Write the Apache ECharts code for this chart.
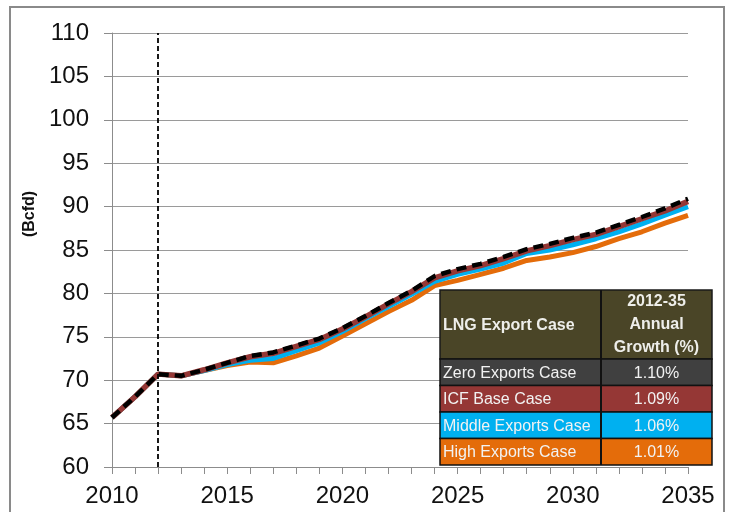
<!DOCTYPE html>
<html>
<head>
<meta charset="utf-8">
<script src="https://cdn.jsdelivr.net/npm/echarts@6/dist/echarts.min.js"></script>
<style>
html,body{margin:0;padding:0;background:#fff;}
#c{width:739px;height:512px;}
</style>
</head>
<body>
<div id="c"></div>
<script>
const years = [2010,2011,2012,2013,2014,2015,2016,2017,2018,2019,2020,2021,2022,2023,2024,2025,2026,2027,2028,2029,2030,2031,2032,2033,2034,2035];
const zeroExports   = [65.7,68.1,70.7,70.5,71.2,72.0,72.8,73.2,74.0,74.8,76.0,77.4,78.9,80.3,82.0,82.8,83.4,84.2,85.1,85.7,86.4,87.0,87.9,88.8,89.8,90.9];
const icfBase       = [65.7,68.1,70.7,70.5,71.2,72.0,72.7,73.1,73.9,74.7,75.9,77.3,78.8,80.2,81.8,82.6,83.2,84.0,84.9,85.5,86.2,86.8,87.7,88.6,89.5,90.6];
const middleExports = [65.7,68.1,70.7,70.5,71.1,71.8,72.3,72.5,73.4,74.3,75.6,77.1,78.5,79.9,81.4,82.2,82.8,83.5,84.6,85.0,85.6,86.3,87.1,88.0,89.0,90.0];
const highExports   = [65.7,68.1,70.7,70.5,71.1,71.7,72.1,72.0,72.8,73.7,75.1,76.5,77.9,79.2,80.9,81.5,82.2,82.9,83.8,84.2,84.7,85.4,86.3,87.1,88.1,89.0];
const historyEndYear = 2012;
const yTicks = [60,65,70,75,80,85,90,95,100,105,110];
const xLabelYears = [2010,2015,2020,2025,2030,2035];

const tableHeaderLeft = "LNG Export Case";
const tableHeaderRight = ["2012-35", "Annual", "Growth (%)"];
const tableCases = ["Zero Exports Case", "ICF Base Case", "Middle Exports Case", "High Exports Case"];
const tableGrowth = ["1.10%", "1.09%", "1.06%", "1.01%"];
const yAxisTitle = "(Bcfd)";

const caseColors = ["#404040", "#953735", "#00b0f0", "#e46c0a"];
const headerColor = "#4a4527";

function pairs(arr){ return years.map((y,i)=>[y, arr[i]]); }

const font = "Liberation Sans, Arial, sans-serif";
const chart = echarts.init(document.getElementById('c'));

const tX = 440, tW = 272, tDiv = 601, tTop = 290, hH = 69, rH = 26.5;
const g = [];
g.push({type:'rect', shape:{x:10,y:7,width:714,height:520}, style:{fill:'none', stroke:'#8a8a8a', lineWidth:2}, z:0});
g.push({type:'text', x:30, y:214, rotation:Math.PI/2, style:{text:yAxisTitle, font:'bold 16px '+font, fill:'#111', textAlign:'center', textVerticalAlign:'middle'}, z:10});
g.push({type:'rect', shape:{x:tX,y:tTop,width:tW,height:hH}, style:{fill:headerColor, stroke:'#1a1a1a', lineWidth:1.5}, z:20});
g.push({type:'text', x:tX+3, y:tTop+hH/2+1, style:{text:tableHeaderLeft, font:'bold 16px '+font, fill:'#eeeeea', textVerticalAlign:'middle'}, z:31});
tableHeaderRight.forEach((t,i)=>{
  g.push({type:'text', x:(tDiv+tX+tW)/2, y:tTop+12+i*23, style:{text:t, font:'bold 16px '+font, fill:'#eeeeea', textAlign:'center', textVerticalAlign:'middle'}, z:31});
});
tableCases.forEach((c,i)=>{
  const y0 = tTop+hH+i*rH;
  g.push({type:'rect', shape:{x:tX,y:y0,width:tW,height:rH}, style:{fill:caseColors[i], stroke:'#111', lineWidth:1.5}, z:20});
  g.push({type:'text', x:tX+3, y:y0+rH/2+1, style:{text:c, font:'16px '+font, fill:'#f2f2f2', textVerticalAlign:'middle'}, z:31});
  g.push({type:'text', x:(tDiv+tX+tW)/2, y:y0+rH/2+1, style:{text:tableGrowth[i], font:'16px '+font, fill:'#f2f2f2', textAlign:'center', textVerticalAlign:'middle'}, z:31});
});
g.push({type:'line', shape:{x1:tDiv,y1:tTop,x2:tDiv,y2:tTop+hH+rH*4}, style:{stroke:'#111', lineWidth:2}, z:32});

chart.setOption({
  animation:false,
  textStyle:{fontFamily:font},
  grid:{left:112, right:51, top:33, bottom:45},
  xAxis:{
    type:'value', min:2010, max:2035, interval:1,
    axisLine:{show:true, onZero:false, lineStyle:{color:'#8c8c8c', width:1}},
    axisTick:{show:true, length:7, lineStyle:{color:'#8c8c8c'}},
    splitLine:{show:false},
    axisLabel:{margin:17, fontSize:24, color:'#111', fontFamily:font,
      formatter:v=> xLabelYears.indexOf(v)>=0 ? String(v) : ''}
  },
  yAxis:{
    type:'value', min:60, max:110, interval:5,
    axisLine:{show:true, lineStyle:{color:'#8c8c8c', width:1}},
    axisTick:{show:true, length:8, lineStyle:{color:'#8c8c8c'}},
    splitLine:{show:true, lineStyle:{color:'#9a9a9a', width:1}},
    axisLabel:{margin:23, fontSize:24, color:'#111', fontFamily:font,
      formatter:v=> yTicks.indexOf(v)>=0 ? String(v) : ''}
  },
  series:[
    {type:'line', name:'High Exports Case', data:pairs(highExports), symbol:'none', z:2,
     lineStyle:{color:caseColors[3], width:5}},
    {type:'line', name:'Middle Exports Case', data:pairs(middleExports), symbol:'none', z:3,
     lineStyle:{color:caseColors[2], width:5}},
    {type:'line', name:'ICF Base Case', data:pairs(icfBase), symbol:'none', z:4,
     lineStyle:{color:caseColors[1], width:5.5}},
    {type:'line', name:'Zero Exports Case', data:pairs(zeroExports), symbol:'none', z:5,
     lineStyle:{color:'#000', width:4.5, type:[10,6]},
     markLine:{silent:true, symbol:'none', label:{show:false},
       lineStyle:{color:'#000', width:1.8, type:[5,3]},
       data:[{xAxis:historyEndYear}]}}
  ],
  graphic:g
});
</script>
</body>
</html>
